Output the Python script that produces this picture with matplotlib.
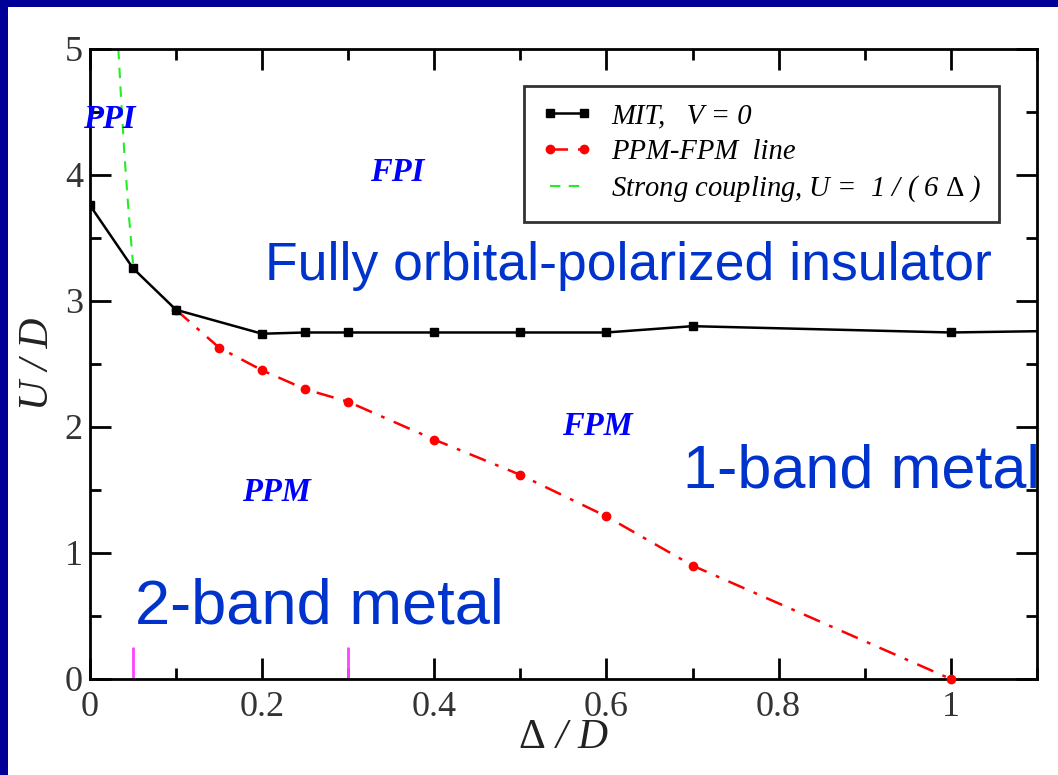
import matplotlib.pyplot as plt
from matplotlib.patches import Rectangle
from matplotlib.ticker import MultipleLocator

plt.rcParams['mathtext.fontset'] = 'custom'
plt.rcParams['mathtext.rm'] = 'Liberation Serif'
plt.rcParams['mathtext.it'] = 'Liberation Serif:italic'

# MIT line, V = 0
mitDelta = [0.0, 0.05, 0.1, 0.2, 0.25, 0.3, 0.4, 0.5, 0.6, 0.7, 1.0, 1.1]
mitU = [3.76, 3.26, 2.93, 2.74, 2.75, 2.75, 2.75, 2.75, 2.75, 2.80, 2.75, 2.76]
mitMarked = 11  # last point has no marker

# PPM-FPM line
ppmDelta = [0.1, 0.15, 0.2, 0.25, 0.3, 0.4, 0.5, 0.6, 0.7, 1.0]
ppmU = [2.93, 2.63, 2.45, 2.30, 2.20, 1.90, 1.62, 1.29, 0.90, 0.0]

# strong coupling curve
scDelta = [0.033, 0.036, 0.040, 0.045, 0.050]
scU = [5.0, 4.63, 4.17, 3.70, 3.30]

# magenta markers on the x axis
markDelta = [0.05, 0.3]

serif = 'Liberation Serif'
sans = 'Liberation Sans'
blue = '#0033cc'

fig = plt.figure(figsize=(10.58, 7.75), dpi=100)
ax = fig.add_axes([0.085, 0.1239, 0.895, 0.8129])

ax.plot(mitDelta, mitU, color='black', lw=1.8, zorder=3)
ax.plot(mitDelta[:mitMarked], mitU[:mitMarked], 's', color='black', ms=6, zorder=4)
ax.plot([], [], 's-', color='black', lw=1.8, ms=6, label='MIT,   V = 0')

ax.plot(ppmDelta, ppmU, '-.', color='red', lw=1.8, marker='o', ms=6,
        dashes=[7, 4, 1.5, 4], label='PPM-FPM  line', zorder=3, clip_on=False)

ax.plot(scDelta, scU, '--', color='#22ee22', lw=1.5, dashes=[5, 4],
        label=r'Strong coupling, U =  1 / ( 6 $\mathrm{\Delta}$ )', zorder=2)

ax.vlines(markDelta, 0, 0.25, color='#ff44ff', lw=2, zorder=2)

ax.set_xlim(0, 1.1)
ax.set_ylim(0, 5)
ax.xaxis.set_major_locator(MultipleLocator(0.2))
ax.xaxis.set_minor_locator(MultipleLocator(0.1))
ax.yaxis.set_major_locator(MultipleLocator(1))
ax.yaxis.set_minor_locator(MultipleLocator(0.5))
ax.set_xticks([0, 0.2, 0.4, 0.6, 0.8, 1.0])
ax.set_xticklabels(['0', '0.2', '0.4', '0.6', '0.8', '1'])

ax.tick_params(which='both', direction='in', top=True, right=True, width=2,
               labelsize=26, labelcolor='#333333')
ax.tick_params(which='major', length=15)
ax.tick_params(which='minor', length=8)
ax.tick_params(axis='x', pad=9)
ax.tick_params(axis='y', pad=5)
for lab in ax.get_xticklabels() + ax.get_yticklabels():
    lab.set_family(serif)
for sp in ax.spines.values():
    sp.set_linewidth(2)

ax.set_xlabel(r'$\mathrm{\Delta}$ / D', family=serif, style='italic', fontsize=30,
              color='#222222', labelpad=-4)
ax.set_ylabel('U / D', family=serif, style='italic', fontsize=30,
              color='#222222', labelpad=6)

leg = ax.legend(loc='upper right', bbox_to_anchor=(0.96, 0.941), numpoints=2,
                prop={'family': serif, 'style': 'italic', 'size': 20.6},
                frameon=True, fancybox=False, handlelength=1.8,
                borderpad=0.6, labelspacing=0.32, handletextpad=0.65,
                borderaxespad=0)
leg.get_frame().set_edgecolor('black')
leg.get_frame().set_linewidth(2)

# phase labels
for x, y, s in [(0.023, 4.44, 'PPI'), (0.357, 4.02, 'FPI'),
                (0.59, 2.0, 'FPM'), (0.217, 1.48, 'PPM')]:
    ax.text(x, y, s, family=serif, style='italic', weight='bold', fontsize=23.5,
            color='blue', ha='center', va='center')

ax.text(0.203, 3.17, 'Fully orbital-polarized insulator', family=sans,
        fontsize=38.5, color=blue, va='baseline', clip_on=False)
ax.text(0.689, 1.52, '1-band metal', family=sans, fontsize=44, color=blue,
        va='baseline', clip_on=False)
ax.text(0.052, 0.44, '2-band metal', family=sans, fontsize=45.5, color=blue,
        va='baseline', clip_on=False)

# navy frame, top and left only
navy = '#000099'
fig.patches.append(Rectangle((0, 0), 8 / 1058, 1, transform=fig.transFigure,
                             facecolor=navy, lw=0, zorder=10))
fig.patches.append(Rectangle((0, 1 - 7 / 775), 1, 7 / 775, lw=0,
                             transform=fig.transFigure, facecolor=navy, zorder=10))

fig.savefig('out.png', dpi=100)
